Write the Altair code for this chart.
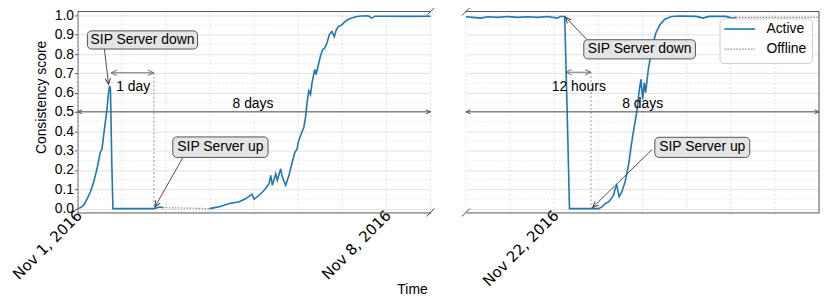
import altair as alt
import pandas as pd

# ---------------- data ----------------
FONT = "Liberation Sans"
TICK_FONT = "DejaVu Sans"
LEFT_START = "2016-11-01"
RIGHT_START = "2016-11-20"
LEFT_DOMAIN = [(2016, 11, 1), (2016, 11, 9)]
RIGHT_DOMAIN = [(2016, 11, 20), (2016, 11, 28)]
LEFT_TICK_DATES = [(2016, 11, 1), (2016, 11, 8)]
RIGHT_TICK_DATES = [(2016, 11, 22)]
GRID_DAYS = [0, 1, 2, 3, 4, 5, 6, 7, 8]
Y_DOMAIN = [-0.02, 1.02]
Y_TICKS = [0.0, 0.1, 0.2, 0.3, 0.4, 0.5, 0.6, 0.7, 0.8, 0.9, 1.0]
Y_MINOR = [0.05, 0.15, 0.25, 0.35, 0.45, 0.55, 0.65, 0.75, 0.85, 0.95]
SERIES = ["Active", "Offline"]

# left panel: days since Nov 1, 2016 -> consistency score
L_ACTIVE_A_DAYS = [0.000, 0.067, 0.142, 0.218, 0.292, 0.367, 0.405, 0.443, 0.479, 0.517,
                   0.556, 0.592, 0.630, 0.668, 0.704, 0.727, 0.747, 0.776, 0.803, 1.2,
                   1.732, 1.80, 1.867, 1.934]
L_ACTIVE_A_VALS = [0.0, 0.005, 0.018, 0.05, 0.086, 0.138, 0.172, 0.206, 0.249, 0.292,
                   0.309, 0.378, 0.446, 0.514, 0.60, 0.635, 0.62, 0.25, 0.0, 0.0,
                   0.0, 0.004, 0.008, 0.005]
L_OFFLINE_DAYS = [1.934, 2.991]
L_OFFLINE_VALS = [0.005, 0.0]
L_ACTIVE_B_DAYS = [2.991, 3.104, 3.216, 3.441, 3.666, 3.817, 3.952, 4.004, 4.116, 4.229,
                   4.341, 4.379, 4.415, 4.492, 4.528, 4.604, 4.640, 4.717, 4.791, 4.865,
                   4.926, 4.978, 5.0, 5.054, 5.128, 5.166, 5.202, 5.241, 5.279, 5.315,
                   5.376, 5.405, 5.450, 5.504, 5.556, 5.601, 5.652, 5.706, 5.765, 5.819,
                   5.864, 5.915, 5.990, 6.066, 6.140, 6.215, 6.327, 6.440, 6.590, 6.664,
                   6.741, 7.04, 7.49, 8.0]
L_ACTIVE_B_VALS = [0.0, 0.005, 0.01, 0.026, 0.035, 0.052, 0.075, 0.049, 0.069, 0.095,
                   0.129, 0.172, 0.121, 0.18, 0.146, 0.206, 0.163, 0.121, 0.172, 0.24,
                   0.292, 0.309, 0.343, 0.378, 0.42, 0.472, 0.549, 0.609, 0.591, 0.652,
                   0.72, 0.694, 0.737, 0.789, 0.823, 0.831, 0.857, 0.9, 0.917, 0.89,
                   0.925, 0.943, 0.951, 0.969, 0.98, 0.986, 0.994, 0.997, 0.998, 0.986,
                   0.996, 0.996, 0.995, 0.996]

# right panel: days since Nov 20, 2016 -> consistency score
R_ACTIVE_DAYS = [0.0, 0.157, 0.345, 0.495, 0.72, 0.945, 1.17, 1.395, 1.62, 1.844,
                 2.07, 2.137, 2.238, 2.294, 2.346, 2.6, 2.834, 3.007, 3.081, 3.156,
                 3.232, 3.268, 3.345, 3.381, 3.419, 3.471, 3.531, 3.605, 3.644, 3.695,
                 3.734, 3.817, 3.869, 3.920, 3.965, 4.004, 4.042, 4.071, 4.132, 4.184,
                 4.244, 4.303, 4.393, 4.505, 4.656, 4.843, 5.218, 5.369, 5.511, 5.893,
                 6.044, 6.118]
R_ACTIVE_VALS = [0.993, 0.99, 0.986, 0.993, 0.99, 0.994, 0.99, 0.993, 0.99, 0.994,
                 0.986, 0.994, 0.994, 0.5, 0.0, 0.0, 0.0, 0.0, 0.009, 0.026,
                 0.035, 0.044, 0.069, 0.103, 0.121, 0.061, 0.086, 0.138, 0.18, 0.24,
                 0.309, 0.43, 0.497, 0.6, 0.669, 0.566, 0.652, 0.6, 0.72, 0.789,
                 0.857, 0.909, 0.951, 0.98, 0.994, 0.997, 0.995, 0.986, 0.995, 0.995,
                 0.985, 0.99]
R_OFFLINE_DAYS = [6.118, 8.0]
R_OFFLINE_VALS = [0.99, 0.99]

# annotations (days since panel start, score)
L_BOXES = {"label": ["SIP Server down", "SIP Server up"],
           "x1": [0.225, 2.159], "x2": [2.72, 4.318],
           "y1": [0.826, 0.265], "y2": [0.920, 0.371]}
L_POINTERS = {"x1": [0.61, 2.39], "y1": [0.826, 0.265],
              "x2": [0.704, 1.754], "y2": [0.643, 0.009], "ang": [83, 120]}
L_SPANS = {"label": ["1 day", "8 days"], "x1": [0.76, 0.0], "x2": [1.732, 8.0],
           "y": [0.703, 0.501], "tx": [1.262, 3.977], "ty": [0.628, 0.54]}
L_VLINES = {"x": [1.732], "y1": [0.703], "y2": [0.0]}

R_BOXES = {"label": ["SIP Server down", "SIP Server up"],
           "x1": [2.67, 4.28], "x2": [5.2, 6.43],
           "y1": [0.775, 0.265], "y2": [0.874, 0.369]}
R_POINTERS = {"x1": [2.744, 4.217], "y1": [0.874, 0.306],
              "x2": [2.256, 2.873], "y2": [0.991, 0.006], "ang": [230, 135]}
R_SPANS = {"label": ["12 hours", "8 days"], "x1": [2.256, 0.0], "x2": [2.834, 8.0],
           "y": [0.706, 0.501], "tx": [2.558, 4.004], "ty": [0.628, 0.54]}
R_VLINES = {"x": [2.834], "y1": [0.706], "y2": [0.0]}

# ---------------- styling ----------------
W, H = 355.7, 202.4
BLUE = "#1f77b4"
OFF_GREY = "#8c8c8c"
SPINE = "#555555"
GRID = "#dadada"
GRID_MINOR = "#e2e2e2"
POINTER = "#3a3a3a"
SPAN_GREY = "#6f6f6f"
BOX_FILL = "#e5e5e5"
BOX_EDGE = "#555555"
HEAD = "M-1,-0.45L0,0L-1,0.45"


def to_time(start, days):
    base = pd.Timestamp(start)
    return [base + pd.Timedelta(days=d) for d in days]


def dt(t):
    return alt.DateTime(year=t[0], month=t[1], date=t[2])


def line_df(start, segments):
    rows = []
    for i, (days, vals) in enumerate(segments):
        for t, v in zip(to_time(start, days), vals):
            rows.append({"t": t, "v": v, "seg": i})
    return pd.DataFrame(rows)


def make_panel(start, domain, active, offline, boxes, pointers, spans, vlines,
               tick_dates, is_left):
    xs = alt.Scale(domain=[dt(domain[0]), dt(domain[1])])
    ys = alt.Scale(domain=Y_DOMAIN, nice=False, zero=False)

    xaxis = alt.Axis(values=[dt(d) for d in tick_dates], format="%b %-d, %Y",
                     labelAngle=315, labelAlign="right", labelBaseline="middle",
                     labelFont=TICK_FONT, labelFontSize=15, labelPadding=0,
                     labelOffset=1.5, labelFlush=False, labelOverlap=False,
                     labelColor="black", ticks=False, grid=False, domain=True,
                     domainColor=SPINE,
                     title="Time" if is_left else "", titleFontSize=14,
                     titleFontWeight="normal", titleX=337, titleY=78,
                     titleBaseline="middle", titleAlign="center", titleColor="black")
    if is_left:
        yaxis = alt.Axis(values=Y_TICKS, format=".1f", grid=True, gridColor=GRID,
                         gridWidth=0.8, domain=True, domainColor=SPINE, ticks=True,
                         tickSize=3, tickColor=SPINE, labelFontSize=14, labelPadding=1,
                         labelFlush=False, labelColor="black",
                         title="Consistency score", titleFontSize=14,
                         titleFontWeight="normal", titleX=-36.5, titleY=86,
                         titleAngle=270, titleAlign="center", titleBaseline="middle",
                         titleColor="black")
    else:
        yaxis = alt.Axis(values=Y_TICKS, grid=True, gridColor=GRID, gridWidth=0.8,
                         domain=False, ticks=False, labels=False, title="")

    def X(f):
        return alt.X(f, type="temporal", scale=xs, axis=xaxis)

    def Y(f):
        return alt.Y(f, type="quantitative", scale=ys, axis=yaxis)

    one = pd.DataFrame({"a": [0]})
    layers = []

    # grids
    layers.append(alt.Chart(pd.DataFrame({"v": Y_MINOR})).mark_rule(
        color=GRID_MINOR, strokeWidth=0.8, strokeDash=[2, 2]).encode(y=Y("v")))
    layers.append(alt.Chart(pd.DataFrame({"t": to_time(start, GRID_DAYS)})).mark_rule(
        color=GRID, strokeWidth=0.8, strokeDash=[2, 2]).encode(x=X("t")))

    # spines
    layers.append(alt.Chart(one).mark_rule(color=SPINE, strokeWidth=1).encode(
        x=alt.value(0), x2=alt.value(W), y=alt.value(0)))
    if not is_left:
        layers.append(alt.Chart(one).mark_rule(color=SPINE, strokeWidth=1).encode(
            x=alt.value(W), y=alt.value(0), y2=alt.value(H)))

    # vertical dotted helper lines
    vdf = pd.DataFrame({"t": to_time(start, vlines["x"]), "v1": vlines["y1"],
                        "v2": vlines["y2"]})
    layers.append(alt.Chart(vdf).mark_rule(color="#8a8a8a", strokeWidth=0.9,
                                           strokeDash=[2, 2]).encode(
        x=X("t"), y=Y("v1"), y2=alt.Y2("v2")))

    # data lines
    adf = line_df(start, active)
    layers.append(alt.Chart(adf).mark_line(color=BLUE, strokeWidth=1.6).encode(
        x=X("t"), y=Y("v"), detail="seg:N"))
    odf = line_df(start, offline)
    layers.append(alt.Chart(odf).mark_line(color=OFF_GREY, strokeWidth=1.2,
                                           strokeDash=[1.5, 1.5]).encode(
        x=X("t"), y=Y("v"), detail="seg:N"))

    # spans (double arrows)
    sdf = pd.DataFrame({"t1": to_time(start, spans["x1"]), "t2": to_time(start, spans["x2"]),
                        "v": spans["y"], "label": spans["label"],
                        "tt": to_time(start, spans["tx"]), "tv": spans["ty"],
                        "col": [SPAN_GREY, SPINE]})
    layers.append(alt.Chart(sdf).mark_rule(strokeWidth=1).encode(
        x=X("t1"), x2=alt.X2("t2"), y=Y("v"), color=alt.Color("col:N", scale=None)))
    layers.append(alt.Chart(sdf).mark_text(fontSize=14, font=FONT, color="black",
                                           align="center", baseline="middle").encode(
        x=X("tt"), y=Y("tv"), text="label:N"))

    # pointer arrows
    pdf = pd.DataFrame({"t1": to_time(start, pointers["x1"]), "v1": pointers["y1"],
                        "t2": to_time(start, pointers["x2"]), "v2": pointers["y2"]})
    layers.append(alt.Chart(pdf).mark_rule(color=POINTER, strokeWidth=0.9).encode(
        x=X("t1"), x2=alt.X2("t2"), y=Y("v1"), y2=alt.Y2("v2")))

    # arrow heads
    heads = {"t": [], "v": [], "ang": [], "sz": [], "col": []}
    for t2, v2, a in zip(pointers["x2"], pointers["y2"], pointers["ang"]):
        heads["t"].append(t2); heads["v"].append(v2); heads["ang"].append(a)
        heads["sz"].append(144); heads["col"].append(POINTER)
    for i, (t1, t2, v) in enumerate(zip(spans["x1"], spans["x2"], spans["y"])):
        col = SPAN_GREY if i == 0 else SPINE
        sz = 144 if i == 0 else 81
        heads["t"] += [t1, t2]; heads["v"] += [v, v]; heads["ang"] += [180, 0]
        heads["sz"] += [sz, sz]; heads["col"] += [col, col]
    hdf = pd.DataFrame(heads)
    hdf["t"] = to_time(start, heads["t"])
    layers.append(alt.Chart(hdf).mark_point(shape=HEAD, filled=False, strokeWidth=1,
                                            opacity=1).encode(
        x=X("t"), y=Y("v"), angle=alt.Angle("ang:Q", scale=None),
        size=alt.Size("sz:Q", scale=None), color=alt.Color("col:N", scale=None)))

    # label boxes
    bdf = pd.DataFrame({"t1": to_time(start, boxes["x1"]), "t2": to_time(start, boxes["x2"]),
                        "v1": boxes["y1"], "v2": boxes["y2"], "label": boxes["label"],
                        "tt": to_time(start, [(a + b) / 2 for a, b in zip(boxes["x1"], boxes["x2"])]),
                        "tv": [(a + b) / 2 for a, b in zip(boxes["y1"], boxes["y2"])]})
    layers.append(alt.Chart(bdf).mark_rect(fill=BOX_FILL, stroke=BOX_EDGE, strokeWidth=1,
                                           cornerRadius=4).encode(
        x=X("t1"), x2=alt.X2("t2"), y=Y("v1"), y2=alt.Y2("v2")))
    layers.append(alt.Chart(bdf).mark_text(fontSize=14, font=FONT, color="black",
                                           align="center", baseline="middle").encode(
        x=X("tt"), y=Y("tv"), text="label:N"))

    # legend (right panel, upper right)
    if not is_left:
        layers.append(alt.Chart(one).mark_rect(fill="white", fillOpacity=0.85,
                                               stroke="#cccccc", strokeWidth=1,
                                               cornerRadius=4).encode(
            x=alt.value(256), x2=alt.value(349), y=alt.value(7.4), y2=alt.value(52.4)))
        layers.append(alt.Chart(one).mark_rule(color=BLUE, strokeWidth=1.6).encode(
            x=alt.value(260.3), x2=alt.value(291.3), y=alt.value(17.6)))
        layers.append(alt.Chart(one).mark_rule(color=OFF_GREY, strokeWidth=1.2,
                                               strokeDash=[1.5, 1.5]).encode(
            x=alt.value(260.3), x2=alt.value(291.3), y=alt.value(37.8)))
        layers.append(alt.Chart(pd.DataFrame({"s": [SERIES[0]]})).mark_text(
            fontSize=14, font=FONT, color="black", align="left", baseline="middle").encode(
            x=alt.value(302.7), y=alt.value(17.6), text="s:N"))
        layers.append(alt.Chart(pd.DataFrame({"s": [SERIES[1]]})).mark_text(
            fontSize=14, font=FONT, color="black", align="left", baseline="middle").encode(
            x=alt.value(302.7), y=alt.value(37.8), text="s:N"))

    # axis-break diagonals
    corners_x = [W] if is_left else [0]
    for cx in corners_x:
        for cy in [0, H]:
            layers.append(alt.Chart(one).mark_rule(color="#444444", strokeWidth=1).encode(
                x=alt.value(cx - 4), x2=alt.value(cx + 4),
                y=alt.value(cy + 4), y2=alt.value(cy - 4)))

    return alt.layer(*layers).properties(width=W, height=H)


left = make_panel(LEFT_START, LEFT_DOMAIN,
                  [(L_ACTIVE_A_DAYS, L_ACTIVE_A_VALS), (L_ACTIVE_B_DAYS, L_ACTIVE_B_VALS)],
                  [(L_OFFLINE_DAYS, L_OFFLINE_VALS)],
                  L_BOXES, L_POINTERS, L_SPANS, L_VLINES, LEFT_TICK_DATES, True)
right = make_panel(RIGHT_START, RIGHT_DOMAIN,
                   [(R_ACTIVE_DAYS, R_ACTIVE_VALS)],
                   [(R_OFFLINE_DAYS, R_OFFLINE_VALS)],
                   R_BOXES, R_POINTERS, R_SPANS, R_VLINES, RIGHT_TICK_DATES, False)

chart = alt.hconcat(left, right, spacing=35.3, bounds="flush").properties(
    padding={"left": 1, "top": -2.5, "right": 0, "bottom": 0}
).configure(font=FONT).configure_view(stroke="transparent")

chart.save("out.html", embed_options={"renderer": "svg", "actions": False})
